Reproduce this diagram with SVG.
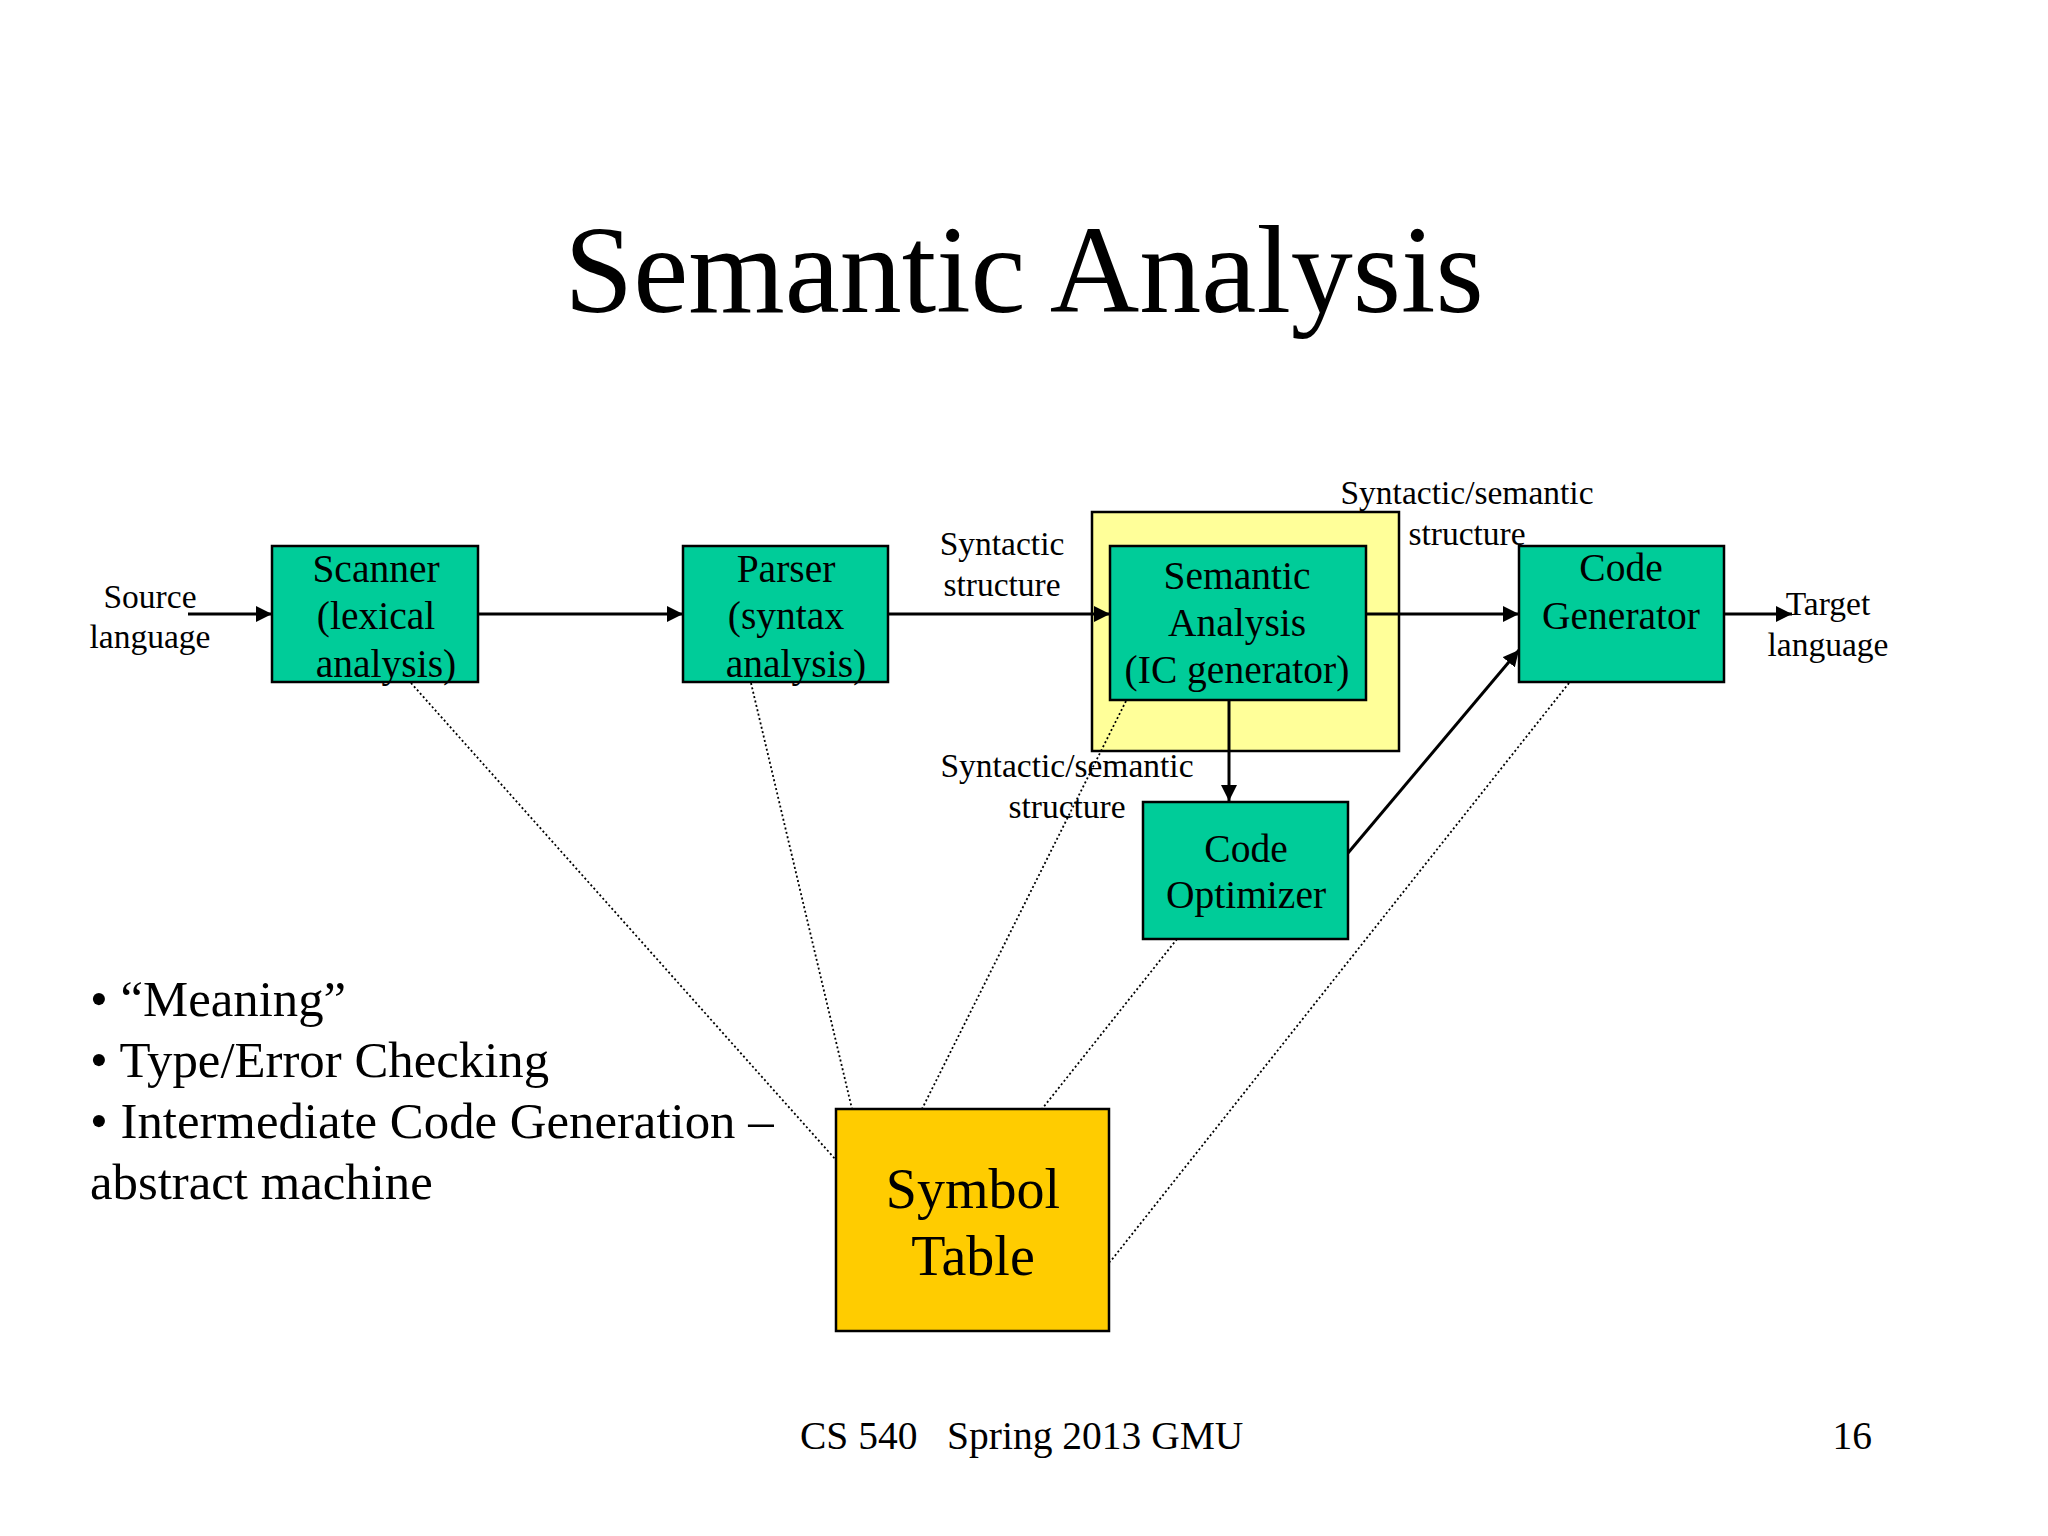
<svg xmlns="http://www.w3.org/2000/svg" width="2048" height="1536" viewBox="0 0 2048 1536">
  <style>
    text { font-family: "Liberation Serif", "Times New Roman", serif; fill: #000; }
    .t { font-size: 124px; text-anchor: middle; }
    .box { fill: #00CC99; stroke: #000; stroke-width: 2.5; }
    .bl { font-size: 39.5px; text-anchor: middle; }
    .lbl { font-size: 33.5px; text-anchor: middle; }
    .bul { font-size: 50.8px; }
    .ft { font-size: 39.5px; }
    .arrow { stroke: #000; stroke-width: 3; fill: none; marker-end: url(#ah); }
    .dot { stroke: #000; stroke-width: 1.8; fill: none; stroke-dasharray: 2 2.5; }
  </style>
  <defs>
    <marker id="ah" markerUnits="userSpaceOnUse" markerWidth="16" markerHeight="16" refX="16" refY="8" orient="auto">
      <path d="M0,0 L16,8 L0,16 z" fill="#000"/>
    </marker>
  </defs>
  <rect width="2048" height="1536" fill="#fff"/>

  <text class="t" x="1024" y="312">Semantic Analysis</text>

  <g id="semantic-highlight">
    <rect x="1092" y="512" width="307" height="239" fill="#FFFF99" stroke="#000" stroke-width="2.5"/>
  </g>

  <g id="connectors">
    <line class="dot" x1="411" y1="683" x2="836" y2="1160"/>
    <line class="dot" x1="751" y1="683" x2="852" y2="1109"/>
    <line class="dot" x1="1126" y1="701" x2="922" y2="1109"/>
    <line class="dot" x1="1177" y1="939" x2="1042" y2="1109"/>
    <line class="dot" x1="1569" y1="683" x2="1110" y2="1262"/>
    <line class="arrow" x1="188" y1="614" x2="272" y2="614"/>
    <line class="arrow" x1="478" y1="614" x2="683" y2="614"/>
    <line class="arrow" x1="888" y1="614" x2="1110" y2="614"/>
    <line class="arrow" x1="1366" y1="614" x2="1519" y2="614"/>
    <line class="arrow" x1="1724" y1="614" x2="1792" y2="614"/>
    <line class="arrow" x1="1229" y1="700" x2="1229" y2="801"/>
    <line class="arrow" x1="1348" y1="853" x2="1519" y2="650"/>
  </g>

  <g id="scanner">
    <rect class="box" x="272" y="546" width="206" height="136"/>
    <text class="bl" x="376" y="582">Scanner</text>
    <text class="bl" x="376" y="629">(lexical</text>
    <text class="bl" x="386" y="677">analysis)</text>
  </g>

  <g id="parser">
    <rect class="box" x="683" y="546" width="205" height="136"/>
    <text class="bl" x="786" y="582">Parser</text>
    <text class="bl" x="786" y="629">(syntax</text>
    <text class="bl" x="796" y="677">analysis)</text>
  </g>

  <g id="semantic-analysis">
    <rect class="box" x="1110" y="546" width="256" height="154"/>
    <text class="bl" x="1237" y="589">Semantic</text>
    <text class="bl" x="1237" y="636">Analysis</text>
    <text class="bl" x="1237" y="683">(IC generator)</text>
  </g>

  <g id="code-generator">
    <rect class="box" x="1519" y="546" width="205" height="136"/>
    <text class="bl" x="1621" y="581">Code</text>
    <text class="bl" x="1621" y="629">Generator</text>
  </g>

  <g id="code-optimizer">
    <rect class="box" x="1143" y="802" width="205" height="137"/>
    <text class="bl" x="1246" y="862">Code</text>
    <text class="bl" x="1246" y="908">Optimizer</text>
  </g>

  <g id="symbol-table">
    <rect x="836" y="1109" width="273" height="222" fill="#FFCC00" stroke="#000" stroke-width="2.5"/>
    <text x="973" y="1208" font-size="56" text-anchor="middle">Symbol</text>
    <text x="973" y="1275" font-size="56" text-anchor="middle">Table</text>
  </g>

  <g id="labels">
    <text class="lbl" x="150" y="608">Source</text>
    <text class="lbl" x="150" y="648">language</text>
    <text class="lbl" x="1002" y="555">Syntactic</text>
    <text class="lbl" x="1002" y="596">structure</text>
    <text class="lbl" x="1467" y="504">Syntactic/semantic</text>
    <text class="lbl" x="1467" y="545">structure</text>
    <text class="lbl" x="1828" y="615">Target</text>
    <text class="lbl" x="1828" y="656">language</text>
    <text class="lbl" x="1067" y="777">Syntactic/semantic</text>
    <text class="lbl" x="1067" y="818">structure</text>
  </g>

  <g id="bullets">
    <text class="bul" x="90" y="1016">• “Meaning”</text>
    <text class="bul" x="90" y="1077">• Type/Error Checking</text>
    <text class="bul" x="90" y="1138">• Intermediate Code Generation –</text>
    <text class="bul" x="90" y="1199">abstract machine</text>
  </g>

  <g id="footer">
    <text class="ft" x="800" y="1449" xml:space="preserve">CS 540   Spring 2013 GMU</text>
    <text class="ft" x="1872" y="1449" text-anchor="end">16</text>
  </g>
</svg>
